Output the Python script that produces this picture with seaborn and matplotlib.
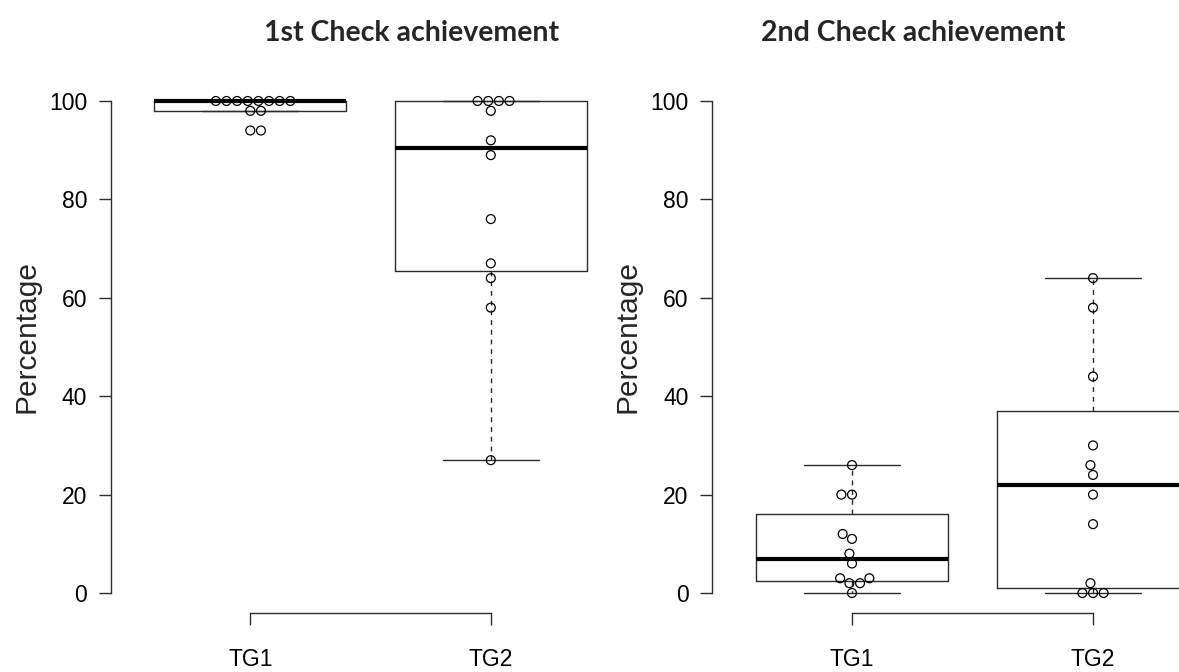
import numpy as np
import pandas as pd
import matplotlib
matplotlib.use("Agg")
import matplotlib.pyplot as plt
import seaborn as sns

# Achievement percentages per test group
groups = ["TG1", "TG2"]
check1_tg1 = [100, 100, 100, 100, 100, 100, 100, 100, 98, 98, 94, 94]
check1_tg2 = [100, 100, 100, 100, 98, 92, 89, 76, 67, 64, 58, 27]
check2_tg1 = [26, 20, 20, 12, 11, 8, 6, 3, 3, 2, 2, 0]
check2_tg2 = [64, 58, 44, 30, 26, 24, 20, 14, 2, 0, 0, 0]
titles = ["1st Check achievement", "2nd Check achievement"]
y_label = "Percentage"
y_ticks = [0, 20, 40, 60, 80, 100]


def tukey_stats(values, label):
    """Five-number summary with Tukey hinges and 1.5*IQR whiskers."""
    v = np.sort(np.asarray(values, dtype=float))
    n = len(v)
    n4 = np.floor((n + 3) / 2) / 2
    idx = np.array([1, n4, (n + 1) / 2, n + 1 - n4, n]) - 1
    five = 0.5 * (v[np.floor(idx).astype(int)] + v[np.ceil(idx).astype(int)])
    q1, med, q3 = five[1], five[2], five[3]
    iqr = q3 - q1
    inside = v[(v >= q1 - 1.5 * iqr) & (v <= q3 + 1.5 * iqr)]
    return dict(label=label, med=med, q1=q1, q3=q3,
                whislo=inside.min(), whishi=inside.max(), fliers=[])


sns.set_theme(style="ticks")
plt.rcParams["font.family"] = ["Liberation Sans", "DejaVu Sans"]

fig = plt.figure(figsize=(11.79, 6.72), dpi=100)
W, H = 1179, 672
bottom = 1 - 612.7 / H
height = (612.7 - 81.3) / H
ax1 = fig.add_axes([110.8 / W, bottom, 519.5 / W, height])
ax2 = fig.add_axes([712.2 / W, bottom, 520.6 / W, height])

panels = [
    (ax1, check1_tg1, check1_tg2, titles[0], 412),
    (ax2, check2_tg1, check2_tg2, titles[1], 913),
]

line_col = "#2b2b2b"
for ax, a, b, title, tx in panels:
    df = pd.DataFrame({
        "group": [groups[0]] * len(a) + [groups[1]] * len(b),
        "value": list(a) + list(b),
    })
    stats = [tukey_stats(a, groups[0]), tukey_stats(b, groups[1])]
    ax.bxp(stats, positions=[0, 1], widths=0.8, showfliers=False,
           manage_ticks=False,
           boxprops=dict(color=line_col, linewidth=1.0),
           whiskerprops=dict(color=line_col, linewidth=1.0,
                             linestyle=(0, (3.5, 3.5))),
           capprops=dict(color=line_col, linewidth=1.0),
           medianprops=dict(color="black", linewidth=3.0))
    sns.swarmplot(data=df, x="group", y="value", order=groups, ax=ax,
                  size=6.4, color="black", linewidth=0.9, zorder=3)
    for coll in ax.collections:
        coll.set_facecolor("none")
        coll.set_edgecolor("black")

    ax.set_xlim(-0.58, 1.58)
    ax.set_ylim(-4, 104)
    ax.set_yticks(y_ticks)
    ax.set_xticks([0, 1])
    ax.set_xticklabels(groups)
    ax.set_xlabel("")
    ax.set_ylabel(y_label, fontsize=21.5)
    ax.yaxis.set_label_coords(-0.162, 0.52)
    ax.yaxis.label.set_verticalalignment("center")

    sns.despine(ax=ax)
    ax.spines["left"].set_bounds(0, 100)
    ax.spines["bottom"].set_bounds(0, 1)
    for side in ("left", "bottom"):
        ax.spines[side].set_color(line_col)
        ax.spines[side].set_linewidth(1.0)
    ax.tick_params(axis="both", direction="out", length=8.5, width=1.0,
                   color=line_col, labelsize=16.5, labelcolor="black")
    ax.tick_params(axis="y", pad=8.5)
    ax.tick_params(axis="x", pad=17)

    fig.text(tx / W, 1 - 33 / H, title, ha="center", va="center",
             fontsize=20.5, fontweight="bold", family=["Lato", "DejaVu Sans"])

fig.savefig("out.png", dpi=100)
